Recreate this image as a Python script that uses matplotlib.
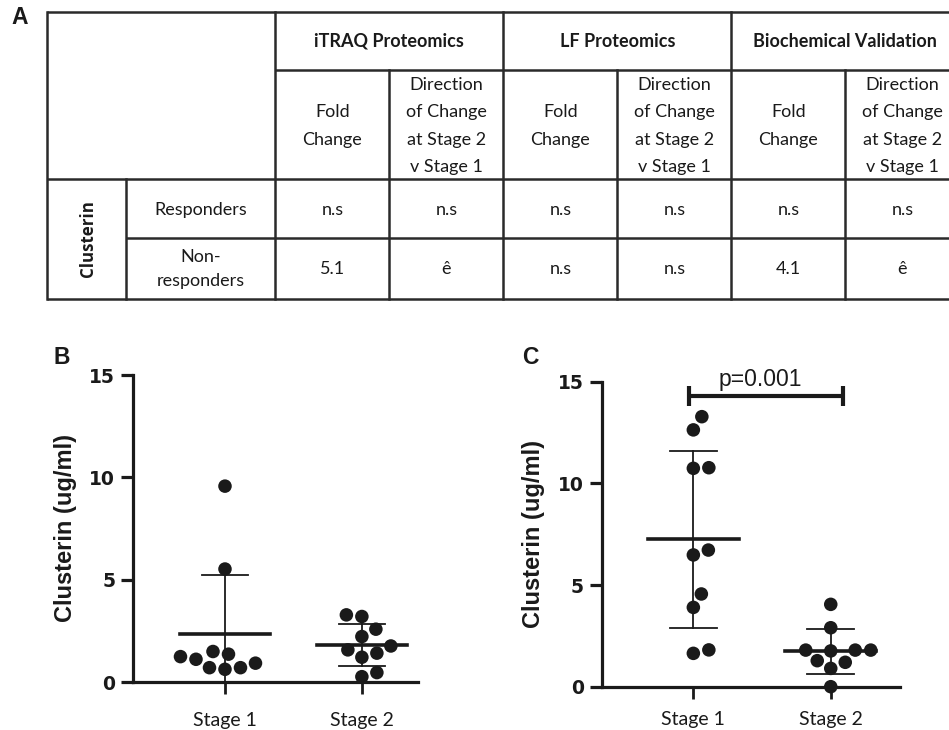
import numpy as np
import matplotlib
matplotlib.use("Agg")
import matplotlib.pyplot as plt

# ---------------- data ----------------
groups = ["iTRAQ Proteomics", "LF Proteomics", "Biochemical Validation"]
fold_header = ["Fold", "Change"]
direction_header = ["Direction", "of Change", "at Stage 2", "v Stage 1"]
row_group = "Clusterin"
row_labels = [["Responders"], ["Non-", "responders"]]
responders_vals = ["n.s", "n.s", "n.s", "n.s", "n.s", "n.s"]
nonresponders_vals = ["5.1", "ê", "n.s", "n.s", "4.1", "ê"]

stages = ["Stage 1", "Stage 2"]
b_stage1 = [5.52, 9.57, 1.49, 0.70, 1.11, 1.36, 0.70, 0.92, 1.24, 0.62]
b_stage2 = [3.20, 3.28, 2.58, 2.22, 1.57, 1.76, 1.21, 1.41, 0.46, 0.26]
c_stage1 = [13.28, 12.63, 10.74, 10.77, 6.48, 6.72, 4.56, 3.90, 1.64, 1.81]
c_stage2 = [4.05, 2.90, 1.80, 1.76, 1.80, 1.80, 1.28, 1.20, 0.90, 0.0]
y_ticks = [0, 5, 10, 15]
y_label = "Clusterin (ug/ml)"
p_text = "p=0.001"

W, H = 949, 730
fig = plt.figure(figsize=(W / 100, H / 100), dpi=100)
INK = "#1a1a1a"
ARIAL = "Liberation Sans"
WIDE = "DejaVu Sans"
CALIBRI = "Lato"

# ---------------- Panel A: table ----------------
ax_t = fig.add_axes([0, 0, 1, 1])
ax_t.set_xlim(0, W)
ax_t.set_ylim(H, 0)
ax_t.axis("off")

xl, xg, xr0 = 46.6, 126.5, 275.4
cw = 114.0
col_x = [xr0 + i * cw for i in range(7)]
y_top, y_h1, y_h2, y_r1, y_bot = 12.3, 70.0, 179.0, 237.7, 299.0
lw_t = 1.8
tc = "#2a2a2a"
ax_t.plot([xl, W], [y_top, y_top], color=tc, lw=lw_t, solid_capstyle="butt")
ax_t.plot([xr0, W], [y_h1, y_h1], color=tc, lw=lw_t, solid_capstyle="butt")
ax_t.plot([xl, W], [y_h2, y_h2], color=tc, lw=lw_t, solid_capstyle="butt")
ax_t.plot([xg, W], [y_r1, y_r1], color=tc, lw=lw_t, solid_capstyle="butt")
ax_t.plot([xl, W], [y_bot, y_bot], color=tc, lw=lw_t, solid_capstyle="butt")
ax_t.plot([xl, xl], [y_top, y_bot], color=tc, lw=lw_t)
ax_t.plot([xg, xg], [y_h2, y_bot], color=tc, lw=lw_t)
for i, cx in enumerate(col_x):
    if i % 2 == 0:
        ax_t.plot([cx, cx], [y_top, y_bot], color=tc, lw=lw_t)
    else:
        ax_t.plot([cx, cx], [y_h1, y_bot], color=tc, lw=lw_t)

fs_t = 13
for i, g in enumerate(groups):
    cx = col_x[2 * i] + cw
    ax_t.text(cx, (y_top + y_h1) / 2, g, ha="center", va="center",
              fontsize=fs_t, fontweight="bold", family=CALIBRI, color=INK)
    fcx = col_x[2 * i] + cw / 2
    dcx = col_x[2 * i] + 1.5 * cw
    for k, t in enumerate(fold_header):
        ax_t.text(fcx, 112 + 27.5 * k, t, ha="center", va="center",
                  fontsize=fs_t, family=CALIBRI, color=INK)
    for k, t in enumerate(direction_header):
        ax_t.text(dcx, 84.5 + 27.5 * k, t, ha="center", va="center",
                  fontsize=fs_t, family=CALIBRI, color=INK)

rlx = (xg + xr0) / 2
ax_t.text(rlx, 210, row_labels[0][0], ha="center", va="center",
          fontsize=fs_t, family=CALIBRI, color=INK)
ax_t.text(rlx, 257, row_labels[1][0], ha="center", va="center",
          fontsize=fs_t, family=CALIBRI, color=INK)
ax_t.text(rlx, 281, row_labels[1][1], ha="center", va="center",
          fontsize=fs_t, family=CALIBRI, color=INK)
ax_t.text(88, (y_h2 + y_bot) / 2, row_group, ha="center", va="center",
          rotation=90, fontsize=12.2, fontweight="bold", family="Open Sans", color=INK)
for j in range(6):
    cx = col_x[j] + cw / 2
    ax_t.text(cx, 210, responders_vals[j], ha="center", va="center",
              fontsize=fs_t, family=CALIBRI, color=INK)
    ax_t.text(cx, 269, nonresponders_vals[j], ha="center", va="center",
              fontsize=fs_t, family=CALIBRI, color=INK)

ax_t.text(19.7, 18, "A", ha="center", va="center", fontsize=16.5,
          fontweight="bold", family=ARIAL, color=INK)
ax_t.text(61.7, 357.5, "B", ha="center", va="center", fontsize=16.5,
          fontweight="bold", family=ARIAL, color=INK)
ax_t.text(530.5, 357, "C", ha="center", va="center", fontsize=16.5,
          fontweight="bold", family=ARIAL, color=INK)


# ---------------- Panels B & C ----------------
def px_axes(left, right, top, bottom):
    return fig.add_axes([left / W, 1 - bottom / H, (right - left) / W, (bottom - top) / H])


def swarm(ax, xc, vals, D):
    vals = np.asarray(vals, float)
    order = np.argsort(vals, kind="stable")
    x0 = ax.transData.transform((xc, 0))[0]
    ppu = ax.transData.transform((xc + 1, 0))[0] - x0
    placed = []
    offs = np.zeros(len(vals))
    cands = [0.0]
    for k in range(1, 300):
        cands += [k * 0.5, -k * 0.5]
    for i in order:
        ypx = ax.transData.transform((xc, vals[i]))[1]
        for dx in cands:
            if all((dx - px) ** 2 + (ypx - py) ** 2 >= D * D for px, py in placed):
                break
        placed.append((dx, ypx))
        offs[i] = dx / ppu
    return xc + offs


def draw_panel(ax, data_lists, xlim, label_x, xpad):
    ax.set_xlim(*xlim)
    ax.set_ylim(0, 15)
    for s in ["top", "right"]:
        ax.spines[s].set_visible(False)
    for s in ["left", "bottom"]:
        ax.spines[s].set_linewidth(2.3)
        ax.spines[s].set_color(INK)
    ax.set_yticks(y_ticks)
    ax.set_yticklabels([str(t) for t in y_ticks], fontsize=13.5,
                       fontweight="bold", family=WIDE)
    ax.set_xticks([1, 2])
    ax.set_xticklabels(stages, fontsize=14, family=CALIBRI)
    ax.tick_params(axis="y", length=8.5, width=2.3, pad=4.3, colors=INK)
    ax.tick_params(axis="x", length=8.5, width=2.0, pad=xpad, colors=INK)
    ax.patch.set_alpha(0)
    ax.set_ylabel(y_label, fontsize=17, fontweight="bold", family=ARIAL, color=INK)
    ax.yaxis.set_label_coords(label_x, 0.5)
    for xc, vals in zip([1, 2], data_lists):
        arr = np.asarray(vals, float)
        m = arr.mean()
        sd = arr.std(ddof=1)
        ax.plot([xc, xc], [m - sd, m + sd], color=INK, lw=1.3, zorder=2)
        for yv in (m - sd, m + sd):
            ax.plot([xc - 0.17, xc + 0.17], [yv, yv], color=INK, lw=1.3, zorder=2)
        ax.plot([xc - 0.33, xc + 0.33], [m, m], color=INK, lw=2.6, zorder=2)
        xs = swarm(ax, xc, arr, 15.5)
        ax.scatter(xs, arr, s=95, color=INK, edgecolors="none", zorder=3,
                   clip_on=False)


ax_b = px_axes(133, 418, 375, 682)
draw_panel(ax_b, [b_stage1, b_stage2], (0.328, 2.41), -0.1975, 13)

ax_c = px_axes(601.7, 900, 381.7, 686.7)
draw_panel(ax_c, [c_stage1, c_stage2], (0.333, 2.504), -0.19, 9)

# significance bracket
yb = 14.3
xa, xe2 = 0.971, 2.092
ax_c.plot([xa, xe2], [yb, yb], color=INK, lw=3.0, solid_capstyle="butt", clip_on=False)
for xe in (xa, xe2):
    ax_c.plot([xe, xe], [yb - 0.5, yb + 0.5], color=INK, lw=3.0,
              solid_capstyle="butt", clip_on=False)
ax_c.text(1.49, yb + 0.5, p_text, ha="center", va="baseline", fontsize=16.5,
          family=ARIAL, color=INK)

fig.savefig("out.png", dpi=100)
